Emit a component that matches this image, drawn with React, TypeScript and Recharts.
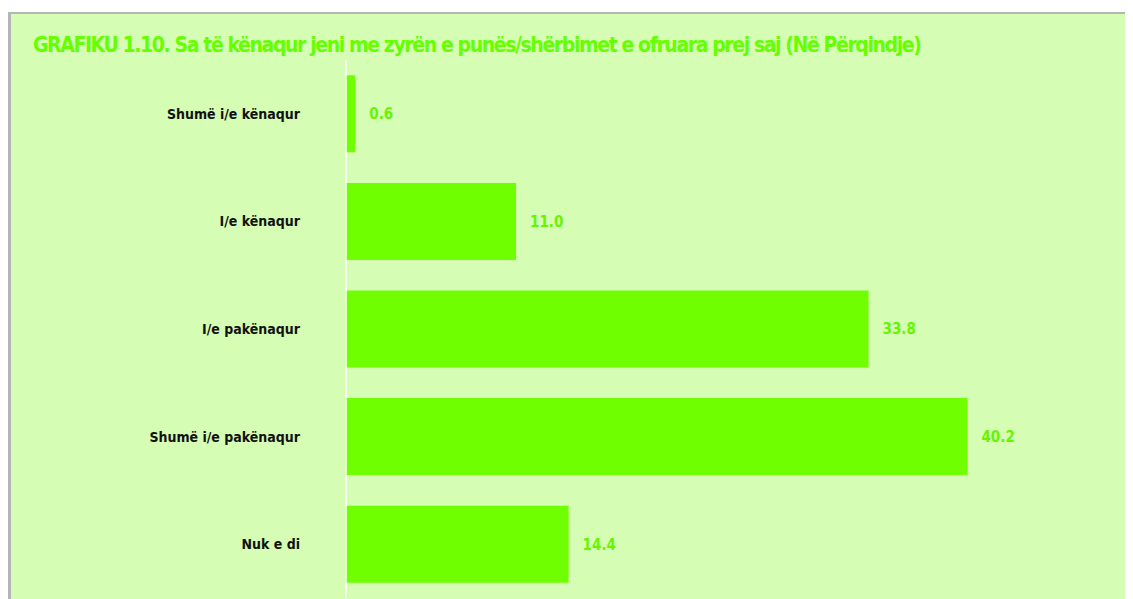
import { Bar, BarChart, LabelList, XAxis, YAxis } from "recharts";

const categories = [
  "Shumë i/e kënaqur",
  "I/e kënaqur",
  "I/e pakënaqur",
  "Shumë i/e pakënaqur",
  "Nuk e di",
];
const values = [0.6, 11.0, 33.8, 40.2, 14.4];

const TITLE =
  "GRAFIKU 1.10. Sa të kënaqur jeni me zyrën e punës/shërbimet e ofruara prej saj (Në Përqindje)";

const FONT = '"Liberation Sans Narrow", "DejaVu Sans", sans-serif';
const BG = "#d5fdb4";
const BAR = "#70ff00";
const LABEL = "#66f500";

const data = categories.map((name, i) => ({ name, value: values[i] }));

export default function App() {
  return (
    <div
      style={{
        position: "relative",
        marginTop: 4,
        width: 1122,
        height: 585,
        background: BG,
        borderTop: "2px solid #b5b5b5",
        borderLeft: "3px solid #b5b5b5",
        fontFamily: FONT,
        fontStretch: "condensed",
      }}
    >
      <div
        style={{
          position: "absolute",
          left: 22,
          top: 18,
          color: "#66ff00",
          fontSize: 21,
          lineHeight: "26px",
          fontWeight: "bold",
          whiteSpace: "nowrap",
          letterSpacing: -1.4,
        }}
      >
        {TITLE}
      </div>
      <BarChart
        width={1122}
        height={585}
        data={data}
        layout="vertical"
        margin={{ top: 46, right: 14, bottom: 1, left: 0 }}
        barCategoryGap="14.2%"
        style={{ fontStretch: "condensed" }}
      >
        <XAxis type="number" domain={[0, 50]} hide />
        <YAxis
          type="category"
          dataKey="name"
          width={335}
          axisLine={{ stroke: "#ffffff", strokeWidth: 1.5 }}
          tickLine={false}
          tickSize={0}
          tickMargin={46}
          tick={{
            fill: "#111111",
            fontSize: 14,
            fontWeight: "bold",
            fontFamily: FONT,
          }}
        />
        <Bar dataKey="value" fill={BAR} isAnimationActive={false}>
          <LabelList
            dataKey="value"
            position="right"
            offset={14}
            formatter={(v: number) => v.toFixed(1)}
            fill={LABEL}
            fontSize={15}
            fontWeight="bold"
            fontFamily={FONT}
          />
        </Bar>
      </BarChart>
    </div>
  );
}
